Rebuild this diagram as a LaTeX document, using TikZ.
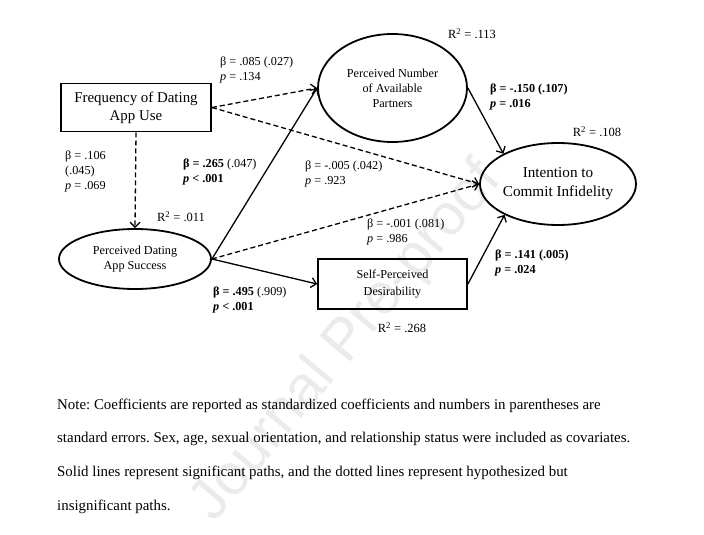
\documentclass[tikz,border=0pt]{standalone}
\usepackage{fontspec}
\setmainfont{Liberation Serif}
\newfontfamily\wmfont{Liberation Sans}
\usetikzlibrary{arrows.meta,shapes.geometric}
\frenchspacing
\begin{document}
\begin{tikzpicture}[x=1pt,y=-1pt,
  boxnode/.style={draw,line width=1.8pt,inner sep=0pt,align=center},
  ellnode/.style={draw,ellipse,line width=1.8pt,inner sep=0pt,align=center},
  sigpath/.style={line width=1.3pt,-{Straight Barb[length=5pt,width=10pt,line width=1.3pt]}},
  nspath/.style={sigpath,dash pattern=on 5pt off 3pt},
  coef/.style={anchor=west,align=left,inner sep=0pt,font=\fontsize{12.2}{15}\selectfont},
  rsq/.style={inner sep=0pt,font=\fontsize{12.5}{14}\selectfont},
  noteline/.style={anchor=base west,inner sep=0pt,font=\fontsize{14.9}{17}\selectfont}]
\useasboundingbox (0,0) rectangle (704,535);
\fill[white] (0,0) rectangle (704,535);
% watermark
\node[rotate=50,text=black!8,font=\wmfont\fontsize{58}{58}\selectfont] (wm) at (347,342) {Journal Pre-proof};
% nodes
\node[boxnode,minimum width=150pt,minimum height=48pt,font=\fontsize{14.9}{18}\selectfont] (freq) at (136,107.5) {Frequency of Dating\\App Use};
\node[ellnode,minimum width=149pt,minimum height=108pt,font=\fontsize{12.2}{15}\selectfont] (pnap) at (392.5,88) {Perceived Number\\of Available\\Partners};
\node[ellnode,minimum width=156pt,minimum height=82pt,font=\fontsize{15.2}{19}\selectfont] (intent) at (558,184) {Intention to\\Commit Infidelity};
\node[ellnode,minimum width=152pt,minimum height=60pt,font=\fontsize{12.2}{15}\selectfont] (pdas) at (135,259) {Perceived Dating\\App Success};
\node[boxnode,minimum width=149pt,minimum height=50pt,font=\fontsize{12.2}{17}\selectfont] (spd) at (392.5,284) {Self-Perceived\\Desirability};
% paths
\draw[nspath] (freq.east) -- (pnap.west);
\draw[nspath] (freq.east) -- (intent.west);
\draw[nspath] (freq.south) -- (pdas.north);
\draw[sigpath] (pdas.east) -- (pnap.west);
\draw[nspath] (pdas.east) -- (intent.west);
\draw[sigpath] (pdas.east) -- (spd.west);
\draw[sigpath] (pnap.east) -- (intent.151);
\draw[sigpath] (spd.east) -- (intent.210);
% coefficients
\node[coef] (c1) at (220,70) {β = .085 (.027)\\\textit{p} = .134};
\node[coef] (c2) at (65,172) {β = .106\\(.045)\\\textit{p} = .069};
\node[coef] (c3) at (183,172) {\textbf{β = .265} (.047)\\\textbf{\textit{p} < .001}};
\node[coef] (c4) at (305,174) {β = -.005 (.042)\\\textit{p} = .923};
\node[coef] (c5) at (490,97.5) {\textbf{β = -.150 (.107)}\\\textbf{\textit{p} = .016}};
\node[coef] (c6) at (367,232.5) {β = -.001 (.081)\\\textit{p} = .986};
\node[coef] (c7) at (495,263.5) {\textbf{β = .141 (.005)}\\\textbf{\textit{p} = .024}};
\node[coef] (c8) at (213,300.5) {\textbf{β = .495} (.909)\\\textbf{\textit{p} < .001}};
% R squared
\node[rsq] (r1) at (472,34) {R\textsuperscript{2} = .113};
\node[rsq] (r2) at (597,132) {R\textsuperscript{2} = .108};
\node[rsq] (r3) at (181,217) {R\textsuperscript{2} = .011};
\node[rsq] (r4) at (402,328) {R\textsuperscript{2} = .268};
% note
\node[noteline] (n1) at (57,409) {Note: Coefficients are reported as standardized coefficients and numbers in parentheses are};
\node[noteline] (n2) at (57,442) {standard errors. Sex, age, sexual orientation, and relationship status were included as covariates.};
\node[noteline] (n3) at (57,476) {Solid lines represent significant paths, and the dotted lines represent hypothesized but};
\node[noteline] (n4) at (57,510) {insignificant paths.};
\end{tikzpicture}
\end{document}
